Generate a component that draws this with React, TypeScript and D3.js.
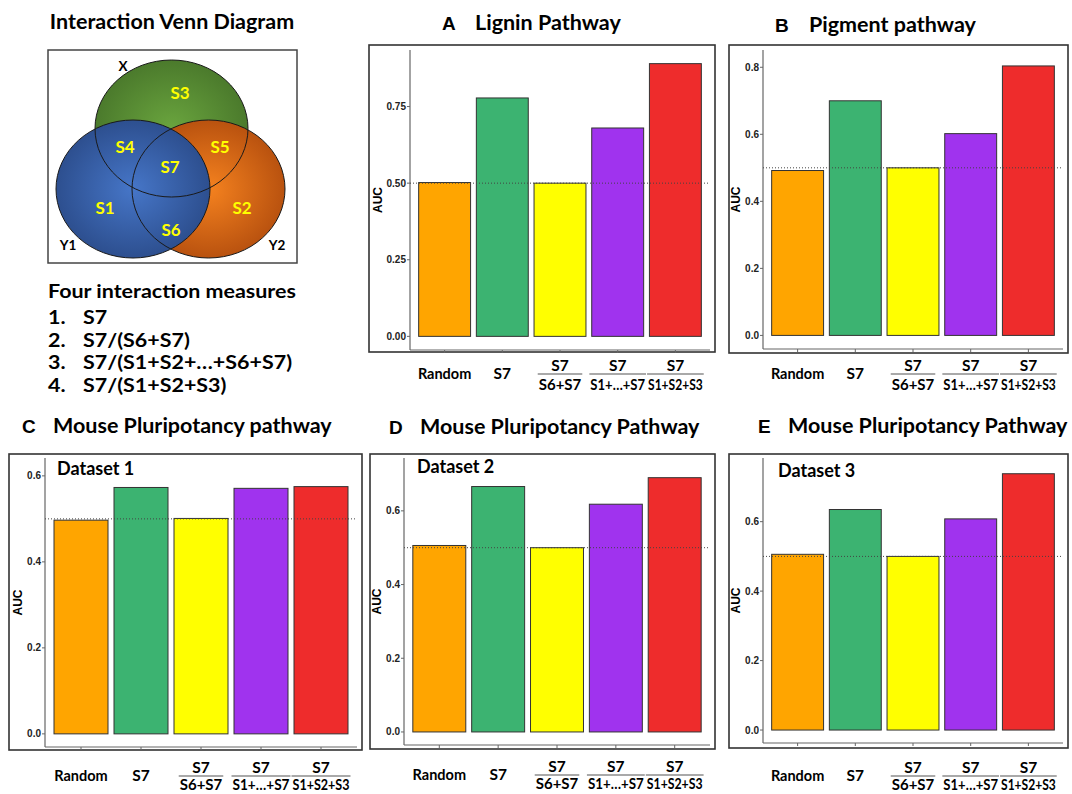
import * as d3 from 'd3';
import React, { useRef, useEffect } from 'react';

// categories on the x axis (numerator / denominator of the interaction measure)
const categories = ["Random", "S7", "S7/(S6+S7)", "S7/(S1+...+S7)", "S7/(S1+S2+S3)"];
const numerators = ["Random", "S7", "S7", "S7", "S7"];
const denominators = ["", "", "S6+S7", "S1+…+S7", "S1+S2+S3"];
const barColors = ["#FFA500", "#3CB371", "#FFFF00", "#A033EE", "#EE2C2C"];

// AUC values
const ligninAUC = [0.502, 0.778, 0.5, 0.68, 0.89];
const pigmentAUC = [0.492, 0.7, 0.5, 0.602, 0.804];
const dataset1AUC = [0.497, 0.573, 0.501, 0.571, 0.575];
const dataset2AUC = [0.506, 0.666, 0.5, 0.618, 0.69];
const dataset3AUC = [0.506, 0.635, 0.5, 0.608, 0.738];

const ligninTicks = [0, 0.25, 0.5, 0.75];
const pigmentTicks = [0, 0.2, 0.4, 0.6, 0.8];
const mouseTicks = [0, 0.2, 0.4, 0.6];

const measures = ["S7", "S7/(S6+S7)", "S7/(S1+S2+…+S6+S7)", "S7/(S1+S2+S3)"];
const vennSets = ["X", "Y1", "Y2"];
const vennRegions = ["S1", "S2", "S3", "S4", "S5", "S6", "S7"];

const CAL = "Lato, 'Open Sans', sans-serif";
const ARIAL = "'Liberation Sans', Arial, sans-serif";
const NARROW = "'Liberation Sans Narrow', 'Liberation Sans', Arial, sans-serif";

const panels = [
  { letter: "A", title: "Lignin Pathway", values: ligninAUC, ticks: ligninTicks, fmt: ".2f", yMax: 0.89, dataset: "",
    frame: [369, 45, 346, 307], plot: [410, 50, 710, 350], letterX: 442, titleX: 475, titleY: 30, lineY: 374, denGap: 16 },
  { letter: "B", title: "Pigment pathway", values: pigmentAUC, ticks: pigmentTicks, fmt: ".1f", yMax: 0.811, dataset: "",
    frame: [729, 45, 339, 308], plot: [763, 50, 1063, 349], letterX: 775, titleX: 809, titleY: 32, lineY: 374, denGap: 16 },
  { letter: "C", title: "Mouse Pluripotancy pathway", values: dataset1AUC, ticks: mouseTicks, fmt: ".1f", yMax: 0.611, dataset: "Dataset 1",
    frame: [9, 454, 353, 296], plot: [45, 458, 357, 747], letterX: 22, titleX: 53, titleY: 433, lineY: 776, denGap: 14, dsX: 57, dsY: 475 },
  { letter: "D", title: "Mouse Pluripotancy Pathway", values: dataset2AUC, ticks: mouseTicks, fmt: ".1f", yMax: 0.708, dataset: "Dataset 2",
    frame: [370, 454, 345, 295], plot: [404, 458, 710, 745], letterX: 389, titleX: 420, titleY: 434, lineY: 775, denGap: 14, dsX: 417, dsY: 473 },
  { letter: "E", title: "Mouse Pluripotancy Pathway", values: dataset3AUC, ticks: mouseTicks, fmt: ".1f", yMax: 0.746, dataset: "Dataset 3",
    frame: [729, 454, 339, 294], plot: [763, 458, 1063, 743], letterX: 758, titleX: 788, titleY: 433, lineY: 776, denGap: 14, dsX: 778, dsY: 477 },
];

function App() {
  const ref = useRef(null);

  useEffect(() => {
    const svg = d3.select(ref.current);
    svg.selectAll("*").remove();
    svg.append("rect").attr("width", 1072).attr("height", 794).attr("fill", "#fff");

    drawVenn(svg);
    panels.forEach(p => drawPanel(svg, p));
  }, []);

  const drawVenn = (svg) => {
    const defs = svg.append("defs");
    const grads = [
      { id: "gX", inner: "#6aa53e", outer: "#4b7a2c" },
      { id: "gY1", inner: "#4676c8", outer: "#2d4f8f" },
      { id: "gY2", inner: "#f5821f", outer: "#b9520f" },
    ];
    grads.forEach(g => {
      const rg = defs.append("radialGradient").attr("id", g.id);
      rg.append("stop").attr("offset", "0%").attr("stop-color", g.inner);
      rg.append("stop").attr("offset", "100%").attr("stop-color", g.outer);
    });

    svg.append("text").attr("x", 172).attr("y", 29).attr("text-anchor", "middle")
      .attr("font-family", CAL).attr("font-weight", "bold").attr("font-size", 21.5)
      .text("Interaction Venn Diagram");

    svg.append("rect").attr("x", 48).attr("y", 50).attr("width", 249).attr("height", 213)
      .attr("fill", "none").attr("stroke", "#444").attr("stroke-width", 1.5);

    const ellipses = [
      { cx: 171.5, cy: 128.5, rx: 76.5, ry: 68.5, fill: "url(#gX)" },
      { cx: 208.5, cy: 189, rx: 76.5, ry: 69, fill: "url(#gY2)" },
      { cx: 133, cy: 189, rx: 77, ry: 69, fill: "url(#gY1)" },
    ];
    svg.selectAll(".vfill").data(ellipses).enter().append("ellipse")
      .attr("cx", d => d.cx).attr("cy", d => d.cy).attr("rx", d => d.rx).attr("ry", d => d.ry)
      .attr("fill", d => d.fill);
    svg.selectAll(".vline").data(ellipses).enter().append("ellipse")
      .attr("cx", d => d.cx).attr("cy", d => d.cy).attr("rx", d => d.rx).attr("ry", d => d.ry)
      .attr("fill", "none").attr("stroke", "#1a1a1a").attr("stroke-width", 1);

    const setPos = [[123, 71], [68, 250], [277, 250]];
    vennSets.forEach((s, i) => {
      svg.append("text").attr("x", setPos[i][0]).attr("y", setPos[i][1]).attr("text-anchor", "middle")
        .attr("font-family", CAL).attr("font-weight", "bold").attr("font-size", 13.5).text(s);
    });

    const regionPos = [[105, 214], [242, 214], [180, 99], [125, 153], [220, 153], [171, 236], [170, 173]];
    vennRegions.forEach((s, i) => {
      svg.append("text").attr("x", regionPos[i][0]).attr("y", regionPos[i][1]).attr("text-anchor", "middle")
        .attr("font-family", CAL).attr("font-weight", "bold").attr("font-size", 17)
        .attr("fill", "#FFFF00").text(s);
    });

    // measures list, widened a bit to match the original (Calibri-like) type
    const list = svg.append("g").attr("transform", "translate(48,0) scale(1.16,1)");
    list.append("text").attr("x", 0).attr("y", 298)
      .attr("font-family", CAL).attr("font-weight", "bold").attr("font-size", 18.5)
      .text("Four interaction measures");
    measures.forEach((m, i) => {
      const y = 324 + i * 22.7;
      list.append("text").attr("x", 0).attr("y", y)
        .attr("font-family", CAL).attr("font-weight", "bold").attr("font-size", 18.5).text(`${i + 1}.`);
      list.append("text").attr("x", 35 / 1.16).attr("y", y)
        .attr("font-family", CAL).attr("font-weight", "bold").attr("font-size", 18.5).text(m);
    });
  };

  const drawPanel = (svg, p) => {
    const [fx, fy, fw, fh] = p.frame;
    const [left, top, right, bottom] = p.plot;

    // titles
    svg.append("text").attr("x", p.letterX).attr("y", p.titleY)
      .attr("font-family", ARIAL).attr("font-weight", "bold").attr("font-size", 19).text(p.letter);
    svg.append("text").attr("x", p.titleX).attr("y", p.titleY)
      .attr("font-family", CAL).attr("font-weight", "bold").attr("font-size", 21.5).text(p.title);

    svg.append("rect").attr("x", fx).attr("y", fy).attr("width", fw).attr("height", fh)
      .attr("fill", "none").attr("stroke", "#333").attr("stroke-width", 1.6);

    const x = d3.scaleBand().domain(categories).range([left, right])
      .paddingInner(0.1).paddingOuter(0.15);
    const y = d3.scaleLinear().domain([-0.05 * p.yMax, 1.05 * p.yMax]).range([bottom, top]);

    // axes lines
    svg.append("line").attr("x1", left).attr("x2", left).attr("y1", top).attr("y2", bottom)
      .attr("stroke", "#666").attr("stroke-width", 1.2);
    svg.append("line").attr("x1", left).attr("x2", right).attr("y1", bottom).attr("y2", bottom)
      .attr("stroke", "#666").attr("stroke-width", 1.2);

    // y ticks
    const fmt = d3.format(p.fmt);
    let labelW = 0;
    p.ticks.forEach(t => {
      svg.append("line").attr("x1", left - 3).attr("x2", left).attr("y1", y(t)).attr("y2", y(t))
        .attr("stroke", "#666").attr("stroke-width", 1);
      const tl = svg.append("text").attr("x", left - 4).attr("y", y(t)).attr("dy", "0.35em")
        .attr("text-anchor", "end").attr("font-family", NARROW).attr("font-weight", "bold")
        .attr("font-size", 10).attr("fill", "#222").text(fmt(t));
      labelW = Math.max(labelW, tl.node().getComputedTextLength());
    });

    svg.append("text")
      .attr("transform", `translate(${left - 4 - labelW - 5},${(top + bottom) / 2}) rotate(-90)`)
      .attr("text-anchor", "middle").attr("font-family", ARIAL).attr("font-weight", "bold")
      .attr("font-size", 12).text("AUC");

    // bars
    svg.selectAll(null).data(p.values).enter().append("rect")
      .attr("x", (d, i) => x(categories[i]))
      .attr("y", d => y(d))
      .attr("width", x.bandwidth())
      .attr("height", d => y(0) - y(d))
      .attr("fill", (d, i) => barColors[i])
      .attr("stroke", "#333").attr("stroke-width", 1);

    // reference line at 0.5
    svg.append("line").attr("x1", left).attr("x2", right).attr("y1", y(0.5)).attr("y2", y(0.5))
      .attr("stroke", "#444").attr("stroke-width", 1).attr("stroke-dasharray", "1,2");

    if (p.dataset) {
      svg.append("text").attr("x", p.dsX).attr("y", p.dsY)
        .attr("font-family", CAL).attr("font-weight", "bold").attr("font-size", 18).text(p.dataset);
    }

    // x ticks and labels
    const step = x.step();
    categories.forEach((c, i) => {
      const cx = x(c) + x.bandwidth() / 2;
      svg.append("line").attr("x1", cx).attr("x2", cx).attr("y1", bottom).attr("y2", bottom + 3)
        .attr("stroke", "#666").attr("stroke-width", 1);
      if (!denominators[i]) {
        svg.append("text").attr("x", cx).attr("y", p.lineY + 5)
          .attr("text-anchor", "middle").attr("font-family", CAL).attr("font-weight", "bold")
          .attr("font-size", i === 1 ? 15.5 : 14.5).text(numerators[i]);
      } else {
        svg.append("text").attr("x", cx).attr("y", p.lineY - 3.5)
          .attr("text-anchor", "middle").attr("font-family", CAL).attr("font-weight", "bold")
          .attr("font-size", 15.5).text(numerators[i]);
        const den = svg.append("text").attr("x", cx).attr("y", p.lineY + p.denGap)
          .attr("text-anchor", "middle").attr("font-family", CAL).attr("font-weight", "bold")
          .attr("font-size", 15).text(denominators[i]);
        let w = den.node().getComputedTextLength();
        const maxW = step - 3;
        if (w > maxW) {
          den.attr("textLength", maxW).attr("lengthAdjust", "spacingAndGlyphs");
          w = maxW;
        }
        svg.append("line").attr("x1", cx - w / 2 - 1).attr("x2", cx + w / 2 + 1)
          .attr("y1", p.lineY).attr("y2", p.lineY).attr("stroke", "#555").attr("stroke-width", 1.2);
      }
    });
  };

  return (
    <div style={{ position: "absolute", left: 0, top: 0 }}>
      <svg ref={ref} width={1072} height={794} style={{ display: "block" }}></svg>
    </div>
  );
}

export default App;
